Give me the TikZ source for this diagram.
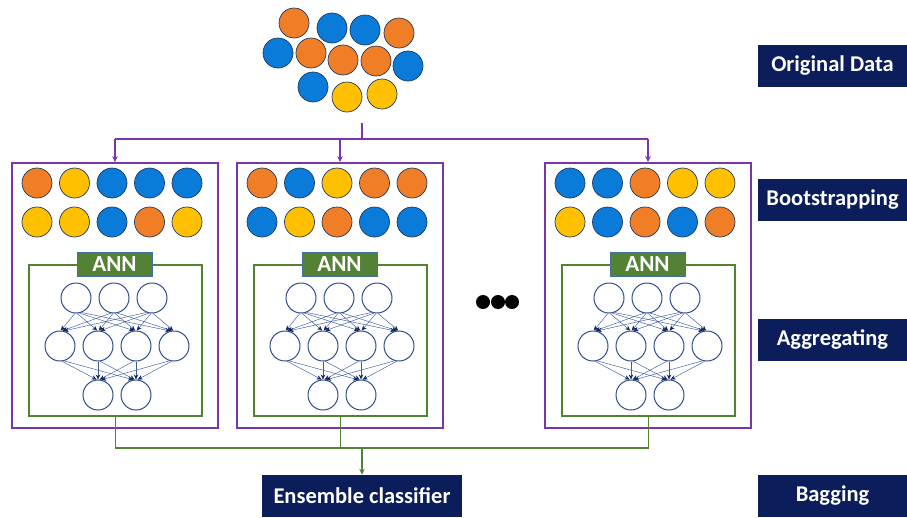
\documentclass[tikz,border=0pt]{standalone}
\usepackage{fontspec}
\setmainfont{Carlito}
\usetikzlibrary{arrows.meta}
\definecolor{cO}{HTML}{F07E26}
\definecolor{cB}{HTML}{0A7BD9}
\definecolor{cY}{HTML}{FFC000}
\definecolor{dotline}{HTML}{1F3864}
\definecolor{navy}{HTML}{0B1D5A}
\definecolor{purp}{HTML}{7A35AA}
\definecolor{grn}{HTML}{548235}
\definecolor{nnblue}{HTML}{2F4D8F}
\definecolor{nnedge}{HTML}{3A5A9A}
\definecolor{nntip}{HTML}{14275E}
\definecolor{annedge}{HTML}{41719C}
\tikzset{
 dot/.style={circle,draw=dotline,line width=0.7pt,minimum size=30pt,inner sep=0pt},
 neuron/.style={circle,draw=nnblue,line width=1pt,fill=white,minimum size=30pt,inner sep=0pt},
 nnarrow/.style={draw=nnedge,line width=0.45pt,-{Stealth[length=5pt,width=4.5pt,color=nntip,fill=nntip]}},
 pbox/.style={draw=purp,line width=1.8pt,minimum width=206pt,minimum height=265pt,inner sep=0pt},
 gbox/.style={draw=grn,line width=1.8pt,minimum width=173pt,minimum height=151pt,inner sep=0pt},
 annlab/.style={fill=grn,draw=annedge,line width=0.6pt,text=white,font=\bfseries\fontsize{23}{23}\selectfont,minimum width=75pt,minimum height=24pt,inner sep=0pt},
 tag/.style={fill=navy,text=white,font=\bfseries\fontsize{22.5}{22.5}\selectfont,minimum width=149pt,minimum height=42pt,inner sep=0pt},
 pline/.style={draw=purp,line width=1.8pt},
 parrow/.style={pline,-{Stealth[length=6pt,width=5.5pt]}},
 gline/.style={draw=grn,line width=1.8pt},
 garrow/.style={gline,-{Stealth[length=6pt,width=5.5pt]}},
 ell/.style={circle,fill=black,minimum size=14pt,inner sep=0pt},
}
\newcommand\drawpanel[4]{%
\begin{scope}[shift={(#2,0)}]
 \node[pbox] (#1box) at (103,295.5) {};
 \foreach \col [count=\i from 0] in {#3} {\node[dot,fill=c\col] (#1r\i) at ({25+37.5*\i},183) {};}
 \foreach \col [count=\i from 0] in {#4} {\node[dot,fill=c\col] (#1s\i) at ({25+37.5*\i},222) {};}
 \node[gbox] (#1nn) at (103.5,340.5) {};
 \node[annlab] (#1ann) at (102.5,264) {ANN};
 \foreach \i in {0,1,2} {\node[neuron] (#1t\i) at ({64+38*\i},298) {};}
 \foreach \i in {0,...,3} {\node[neuron] (#1m\i) at ({48+38*\i},346) {};}
 \foreach \i in {0,1} {\node[neuron] (#1o\i) at ({86+38*\i},395) {};}
 \foreach \i in {0,1,2} {\foreach \j in {0,...,3} {%
   \pgfmathtruncatemacro\sa{270-0.22*(16+38*(\i-\j))}%
   \pgfmathtruncatemacro\ea{90-0.15*(16+38*(\i-\j))}%
   \draw[nnarrow] (#1t\i.\sa) -- (#1m\j.\ea);}}
 \foreach \i in {0,...,3} {\foreach \j in {0,1} {%
   \pgfmathtruncatemacro\sa{270-0.22*(-38+38*(\i-\j))}%
   \pgfmathtruncatemacro\ea{90-0.15*(-38+38*(\i-\j))}%
   \draw[nnarrow] (#1m\i.\sa) -- (#1o\j.\ea);}}
\end{scope}}
\begin{document}
\begin{tikzpicture}[x=1pt,y=-1pt]
\useasboundingbox (0,0) rectangle (907,517);
% original data
\node[dot,fill=cO] (d1) at (294,23) {};
\node[dot,fill=cB] (d2) at (332,28) {};
\node[dot,fill=cB] (d3) at (365,30) {};
\node[dot,fill=cO] (d4) at (399,33) {};
\node[dot,fill=cB] (d5) at (278,53) {};
\node[dot,fill=cO] (d6) at (311,53) {};
\node[dot,fill=cO] (d7) at (343,60) {};
\node[dot,fill=cO] (d8) at (376,61) {};
\node[dot,fill=cB] (d9) at (408,66) {};
\node[dot,fill=cB] (d10) at (313,87) {};
\node[dot,fill=cY] (d11) at (347,97) {};
\node[dot,fill=cY] (d12) at (382,94) {};
% panels
\drawpanel{p1}{12}{O,Y,B,B,B}{Y,Y,B,O,Y}
\drawpanel{p2}{237}{O,B,Y,O,O}{B,Y,O,B,B}
\drawpanel{p3}{545}{B,B,O,Y,Y}{Y,B,O,B,O}
% ellipsis
\node[ell] (e1) at (483,302) {};
\node[ell] (e2) at (498,302) {};
\node[ell] (e3) at (512,302) {};
% purple split
\coordinate (dtop) at (362,123);
\coordinate (split) at (362,139);
\draw[pline] (dtop) -- (split);
\draw[pline] (p1box.north |- split) -- (p3box.north |- split);
\draw[parrow] (p1box.north |- split) -- (p1box.north);
\draw[parrow] (p2box.north |- split) -- (p2box.north);
\draw[parrow] (p3box.north |- split) -- (p3box.north);
% ensemble
\node[tag,minimum width=200pt] (ens) at (362,496) {Ensemble classifier};
\coordinate (gj) at (362,448);
\draw[gline] (p1nn.south) -- (p1nn.south |- gj) -- (p3nn.south |- gj) -- (p3nn.south);
\draw[gline] (p2nn.south) -- (p2nn.south |- gj);
\draw[garrow] (gj) -- (ens);
% side tags
\node[tag] (t1) at (832.5,66) {Original Data};
\node[tag] (t2) at (832.5,200) {Bootstrapping};
\node[tag] (t3) at (832.5,339.5) {Aggregating};
\node[tag] (t4) at (832.5,495.5) {Bagging};
\end{tikzpicture}
\end{document}
